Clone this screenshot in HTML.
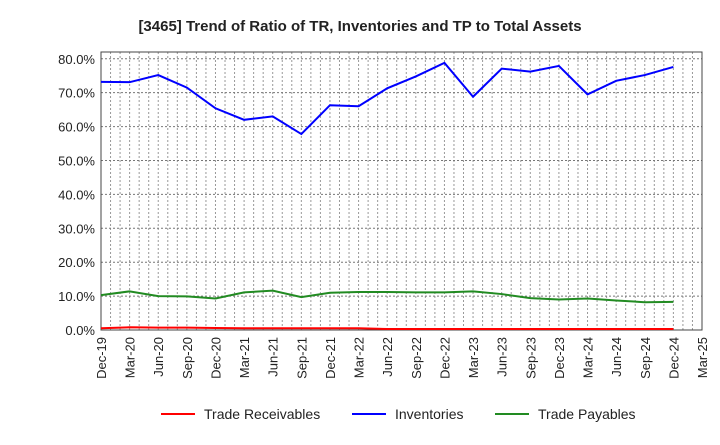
<!DOCTYPE html>
<html><head><meta charset="utf-8"><style>
body{margin:0;background:#fff;font-family:"Liberation Sans",sans-serif;}
</style></head><body>
<svg id="c" width="720" height="440" xmlns="http://www.w3.org/2000/svg">
<text x="360" y="31" text-anchor="middle" font-size="15" font-weight="bold" fill="#222">[3465]  Trend of Ratio of TR, Inventories and TP to Total Assets</text>
<g id="grid"></g><g id="axes"></g><g id="series"></g>
<g>
<line x1="161" y1="414" x2="195" y2="414" stroke="#ff0000" stroke-width="2"/>
<text x="204" y="419" font-size="14" fill="#222">Trade Receivables</text>
<line x1="352" y1="414" x2="386" y2="414" stroke="#0000ff" stroke-width="2"/>
<text x="395" y="419" font-size="14" fill="#222">Inventories</text>
<line x1="495" y1="414" x2="529" y2="414" stroke="#228b22" stroke-width="2"/>
<text x="538" y="419" font-size="14" fill="#222">Trade Payables</text>
</g>
</svg>
<script>
const tickLabels=["Dec-19","Mar-20","Jun-20","Sep-20","Dec-20","Mar-21","Jun-21","Sep-21","Dec-21","Mar-22","Jun-22","Sep-22","Dec-22","Mar-23","Jun-23","Sep-23","Dec-23","Mar-24","Jun-24","Sep-24","Dec-24","Mar-25"];
const yTicks=[0,10,20,30,40,50,60,70,80];
const tradeReceivables=[0.5,0.8,0.7,0.7,0.6,0.5,0.5,0.5,0.5,0.5,0.3,0.3,0.3,0.3,0.3,0.3,0.3,0.3,0.3,0.3,0.3];
const inventories=[73.2,73.1,75.2,71.5,65.4,62.0,63.0,57.8,66.3,66.0,71.3,74.8,78.8,68.8,77.1,76.2,77.9,69.5,73.5,75.2,77.6];
const tradePayables=[10.3,11.4,10.0,9.9,9.3,11.1,11.6,9.7,11.0,11.2,11.2,11.1,11.1,11.4,10.6,9.4,9.0,9.3,8.7,8.2,8.3];
const L=101,R=702,T=52,B=330,YMAX=82;
const NS="http://www.w3.org/2000/svg";
const step=(R-L)/(tickLabels.length-1);
const xAt=i=>L+i*step; // i in quarters
const yAt=v=>B-v/YMAX*(B-T);
function mk(tag,attrs,parent){const e=document.createElementNS(NS,tag);for(const k in attrs)e.setAttribute(k,attrs[k]);document.getElementById(parent).appendChild(e);return e;}
// monthly vertical grid
for(let m=1;m<(tickLabels.length-1)*3;m++){
 const x=L+m*step/3;
 const g=mk('line',{x1:x,x2:x,y1:T,y2:B,stroke:'#999','stroke-dasharray':'2,2','stroke-width':1},'grid');
 
 
}
yTicks.forEach(v=>{
 const y=yAt(v);
 if(v>0){const g=mk('line',{x1:L,x2:R,y1:y,y2:y,stroke:'#777','stroke-dasharray':'2,2','stroke-width':1},'grid');
 
 }
 const t=mk('text',{x:L-6,y:y+5,'text-anchor':'end','font-size':'13',fill:'#222'},'axes');
 t.textContent=v.toFixed(1)+'%';
 
 
});
tickLabels.forEach((s,i)=>{
 const x=xAt(i);
 const t=mk('text',{x:0,y:0,'text-anchor':'end','font-size':'13',fill:'#222',transform:`translate(${x+5},${B+7}) rotate(-90)`},'axes');
 t.textContent=s;
 
 
});
const fr=mk('rect',{x:L,y:T,width:R-L,height:B-T,fill:'none',stroke:'#444','stroke-width':1},'axes');


function line(arr,color,name){
 const p=mk('polyline',{points:arr.map((v,i)=>xAt(i)+','+yAt(v)).join(' '),fill:'none',stroke:color,'stroke-width':2},'series');
 
 
}
line(tradeReceivables,'#ff0000','trade-receivables-line');
line(inventories,'#0000ff','inventories-line');
line(tradePayables,'#228b22','trade-payables-line');
</script>
</body></html>
